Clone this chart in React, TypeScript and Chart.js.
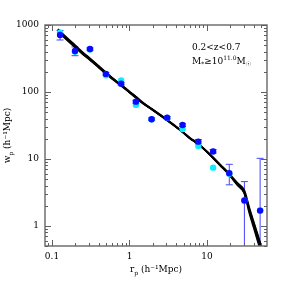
import React, { useEffect, useRef } from "react";
import { Chart, registerables } from "chart.js";

Chart.register(...registerables);

// ---- data ----
const rp = [0.127, 0.198, 0.309, 0.497, 0.78, 1.21, 1.93, 3.06, 4.84, 7.73, 12.0, 19.4, 30.4, 48.5];
const wpBlue = [709, 409, 438, 186, 133, 71.6, 39.2, 41.3, 32.1, 18.1, 12.9, 6.12, 2.39, 1.69];
const wpCyan = [770, 400, 430, 178, 148, 64, 39, 41, 28, 15.6, 7.4, 6.0, 2.4, 1.7];
const errLow = [597, 348, 420, 178, 127, 68, 37.5, 39.5, 30.5, 16.8, 12.2, 4.1, 0.1, 0.1];
const errHigh = [830, 470, 455, 194, 139, 75, 41, 43, 33.5, 19.5, 13.8, 8.3, 4.58, 10.2];

const rModel = [0.119, 0.15, 0.198, 0.25, 0.309, 0.4, 0.497, 0.6, 0.78, 1.0, 1.21, 1.5, 1.93, 2.5, 3.06, 4.0, 4.84, 6.0, 7.7, 10, 12, 15, 19.2, 25, 30.4, 35, 40, 45, 50];
const wpModelA = [842, 650, 486, 380, 311, 240, 192, 160, 127, 100, 84, 68, 55.6, 45, 38, 30, 25.3, 20.5, 16.8, 12.8, 10.4, 8.0, 5.95, 4.1, 3.2, 1.73, 1.03, 0.66, 0.45];
const wpModelB = [800, 620, 465, 365, 300, 232, 186, 156, 124, 98, 82, 67, 55, 44.5, 37.5, 29.8, 25.1, 20.4, 16.7, 12.8, 10.5, 8.1, 6.1, 4.3, 3.35, 1.9, 1.15, 0.75, 0.5];
const wpModelC = [870, 670, 500, 390, 318, 245, 195, 162, 128, 101, 85, 69, 56, 45.5, 38.5, 30.3, 25.5, 20.6, 16.9, 12.8, 10.3, 7.9, 5.85, 4.0, 3.05, 1.6, 0.95, 0.6, 0.4];
const wpModelD = [820, 635, 475, 372, 305, 236, 189, 158, 125.5, 99, 83, 67.5, 55.3, 44.8, 37.8, 29.9, 25.2, 20.4, 16.7, 12.7, 10.3, 7.9, 5.9, 4.05, 3.1, 1.8, 1.1, 0.7, 0.48];

const xTicks = [0.1, 1, 10];
const yTicks = [1, 10, 100, 1000];
const xRange = [0.0812, 59.5];
const yRange = [0.5, 1000];

const FONT = "DejaVu Serif";

function pts(xs: number[], ys: number[]) {
  return xs.map((x, i) => ({ x, y: ys[i] }));
}

const overlay = {
  id: "overlay",
  beforeDatasetsDraw(chart: any) {
    const { ctx, scales } = chart;
    const x = scales.x, y = scales.y;
    const area = chart.chartArea;
    ctx.save();
    ctx.beginPath();
    ctx.rect(area.left, area.top, area.right - area.left, area.bottom - area.top);
    ctx.clip();
    ctx.strokeStyle = "#4646ff";
    ctx.lineWidth = 1;
    rp.forEach((r, i) => {
      const px = x.getPixelForValue(r);
      const yl = y.getPixelForValue(Math.max(errLow[i], 0.01));
      const yh = y.getPixelForValue(errHigh[i]);
      ctx.beginPath();
      ctx.moveTo(px, yl);
      ctx.lineTo(px, yh);
      ctx.moveTo(px - 3.5, yh);
      ctx.lineTo(px + 3.5, yh);
      if (errLow[i] > yRange[0]) {
        ctx.moveTo(px - 3.5, yl);
        ctx.lineTo(px + 3.5, yl);
      }
      ctx.stroke();
    });
    ctx.restore();
  },
  afterDraw(chart: any) {
    const { ctx, scales } = chart;
    const x = scales.x, y = scales.y;
    const a = chart.chartArea;
    ctx.save();
    // frame
    ctx.strokeStyle = "#707070";
    ctx.lineWidth = 1.5;
    ctx.strokeRect(a.left, a.top, a.right - a.left, a.bottom - a.top);
    // inward ticks
    ctx.lineWidth = 1;
    ctx.strokeStyle = "#606060";
    for (let d = -2; d <= 3; d++) {
      for (let m = 1; m <= 9; m++) {
        const v = m * Math.pow(10, d);
        const len = m === 1 ? 6 : 3;
        if (v >= xRange[0] && v <= xRange[1]) {
          const px = Math.round(x.getPixelForValue(v)) + 0.5;
          ctx.beginPath();
          ctx.moveTo(px, a.bottom);
          ctx.lineTo(px, a.bottom - len);
          ctx.moveTo(px, a.top);
          ctx.lineTo(px, a.top + len);
          ctx.stroke();
        }
        if (v >= yRange[0] && v <= yRange[1]) {
          const py = Math.round(y.getPixelForValue(v)) + 0.5;
          ctx.beginPath();
          ctx.moveTo(a.left, py);
          ctx.lineTo(a.left + len, py);
          ctx.moveTo(a.right, py);
          ctx.lineTo(a.right - len, py);
          ctx.stroke();
        }
      }
    }
    // annotation text
    ctx.fillStyle = "#000";
    ctx.textBaseline = "alphabetic";
    ctx.textAlign = "left";
    ctx.font = `9px '${FONT}'`;
    ctx.fillText("0.2<z<0.7", 192, 50);
    let cx = 192;
    const by = 64;
    const seg = (t: string, size: number, dy: number, fam: string = FONT) => {
      ctx.font = `${size}px '${fam}'`;
      ctx.fillText(t, cx, by + dy);
      cx += ctx.measureText(t).width;
    };
    seg("M", 9, 0);
    seg("*", 6, 2);
    seg("≥10", 9, 0);
    seg("11.0", 6, -4);
    seg("M", 9, 0);
    seg("☉", 6, 2, "DejaVu Sans");

    // axis titles
    const title = (tx: number, ty: number, rot: boolean, main: string) => {
      ctx.save();
      ctx.translate(tx, ty);
      if (rot) ctx.rotate(-Math.PI / 2);
      ctx.font = `9px '${FONT}'`;
      const w1 = ctx.measureText(main).width;
      ctx.font = `6px '${FONT}'`;
      const w2 = ctx.measureText("p").width;
      ctx.font = `9px '${FONT}'`;
      const rest = " (h⁻¹Mpc)";
      const w3 = ctx.measureText(rest).width;
      let sx = -(w1 + w2 + w3) / 2;
      ctx.textBaseline = "middle";
      ctx.fillText(main, sx, 0);
      sx += w1;
      ctx.font = `6px '${FONT}'`;
      ctx.fillText("p", sx, 3);
      sx += w2;
      ctx.font = `9px '${FONT}'`;
      ctx.fillText(rest, sx, 0);
      ctx.restore();
    };
    title((a.left + a.right) / 2, 270, false, "r");
    title(8, (a.top + a.bottom) / 2, true, "w");
    ctx.restore();
  },
};

export default function App() {
  const ref = useRef<HTMLCanvasElement | null>(null);
  useEffect(() => {
    document.body.style.margin = "0";
    const lineDs = (data: number[]) => ({
      type: "line" as const,
      data: pts(rModel, data),
      borderColor: "#000",
      borderWidth: 1.8,
      pointRadius: 0,
      fill: false,
      cubicInterpolationMode: "monotone" as const,
      order: 3,
    });
    const chart = new Chart(ref.current as HTMLCanvasElement, {
      type: "scatter",
      data: {
        datasets: [
          { type: "scatter", data: pts(rp, wpBlue), backgroundColor: "#0a0aff", borderWidth: 0, pointRadius: 3.2, order: 0 } as any,
          { type: "scatter", data: pts(rp, wpCyan), backgroundColor: "#10ecff", borderWidth: 0, pointRadius: 3.2, order: 1 } as any,
          lineDs(wpModelA),
          lineDs(wpModelB),
          lineDs(wpModelC),
          lineDs(wpModelD),
        ],
      },
      options: {
        responsive: false,
        animation: false,
        events: [],
        layout: { padding: { top: 25, right: 24, left: 0, bottom: 0 } },
        plugins: { legend: { display: false }, tooltip: { enabled: false } },
        scales: {
          x: {
            type: "logarithmic",
            min: xRange[0],
            max: xRange[1],
            grid: { display: false, drawTicks: false },
            border: { display: false },
            afterBuildTicks: (s: any) => { s.ticks = xTicks.map((v) => ({ value: v })); },
            afterFit: (s: any) => { s.height = 45; },
            ticks: {
              autoSkip: false,
              maxRotation: 0,
              padding: 5,
              color: "#000",
              font: { family: FONT, size: 9 },
              callback: (v: any) => String(v),
            },
          },
          y: {
            type: "logarithmic",
            min: yRange[0],
            max: yRange[1],
            grid: { display: false, drawTicks: false },
            border: { display: false },
            afterBuildTicks: (s: any) => { s.ticks = yTicks.map((v) => ({ value: v })); },
            afterFit: (s: any) => { s.width = 45; },
            ticks: {
              autoSkip: false,
              padding: 6,
              color: "#000",
              font: { family: FONT, size: 9 },
              callback: (v: any) => String(v),
            },
          },
        },
      },
      plugins: [overlay],
    } as any);
    return () => chart.destroy();
  }, []);
  return (
    <div style={{ width: 291, height: 291, background: "#fff" }}>
      <canvas ref={ref} width={291} height={291} />
    </div>
  );
}
